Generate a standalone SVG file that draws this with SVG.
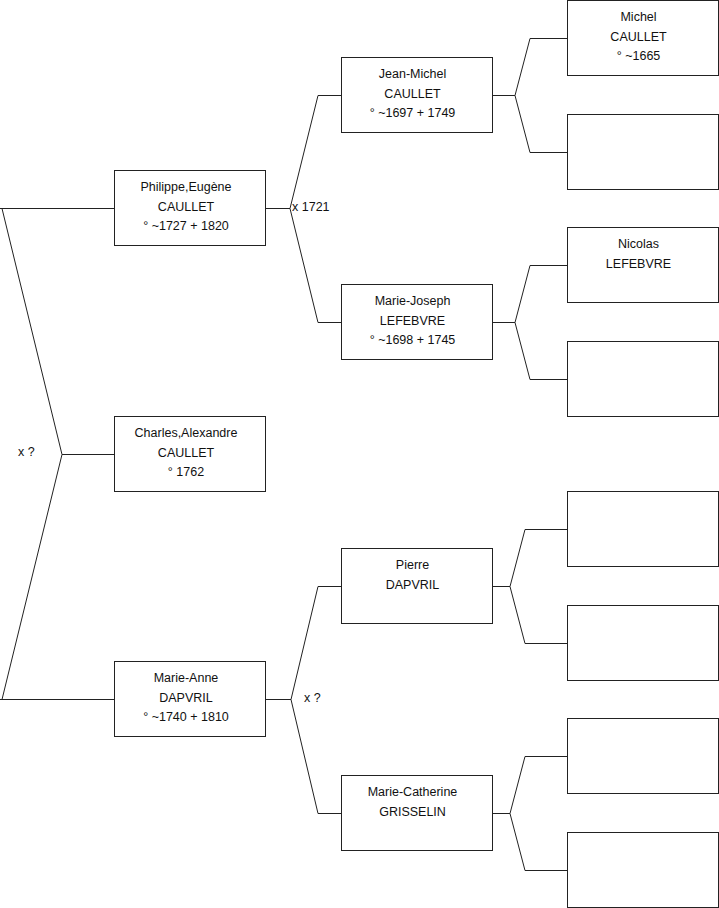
<svg xmlns="http://www.w3.org/2000/svg" width="719" height="908" viewBox="0 0 719 908">
<style>
.box{fill:#fff;stroke:#222;stroke-width:1}
.ln{fill:none;stroke:#222;stroke-width:1}
text{font-family:"Liberation Sans",Arial,sans-serif;font-size:12.5px;fill:#111}
.c{text-anchor:middle}
</style>
<rect width="719" height="908" fill="#fff"/>
<g id="connectors" class="ln">
<path d="M0,208.5H114M2,208.5L62,454.5L2,699.5M62,454.5H114M0,699.5H114"/>
<path d="M265,208.5H290M318,95.5L290,208.5L318,322.5M318,95.5H341M318,322.5H341"/>
<path d="M265,699.5H291M318,586.5L291,699.5L318,813.5M318,586.5H341M318,813.5H341"/>
<path d="M492,95.5H515M530,38.5L515,95.5L530,152.5M530,38.5H567M530,152.5H567"/>
<path d="M492,322.5H515M530,265.5L515,322.5L530,379.5M530,265.5H567M530,379.5H567"/>
<path d="M492,586.5H510M525,529.5L510,586.5L525,643.5M525,529.5H567M525,643.5H567"/>
<path d="M492,813.5H510M525,756.5L510,813.5L525,870.5M525,756.5H567M525,870.5H567"/>
</g>
<g id="labels">
<text x="18" y="456">x ?</text>
<text x="292" y="211">x 1721</text>
<text x="304" y="702">x ?</text>
</g>
<g id="philippe"><rect class="box" x="114.5" y="170.5" width="151" height="75"/>
<text class="c" x="186" y="191">Philippe,Eugène</text><text class="c" x="186" y="210.5">CAULLET</text><text class="c" x="186" y="230">° ~1727 + 1820</text></g>
<g id="charles"><rect class="box" x="114.5" y="416.5" width="151" height="75"/>
<text class="c" x="186" y="437">Charles,Alexandre</text><text class="c" x="186" y="456.5">CAULLET</text><text class="c" x="186" y="476">° 1762</text></g>
<g id="marieanne"><rect class="box" x="114.5" y="661.5" width="151" height="75"/>
<text class="c" x="186" y="682">Marie-Anne</text><text class="c" x="186" y="701.5">DAPVRIL</text><text class="c" x="186" y="721">° ~1740 + 1810</text></g>
<g id="jeanmichel"><rect class="box" x="341.5" y="57.5" width="151" height="75"/>
<text class="c" x="412.5" y="78">Jean-Michel</text><text class="c" x="412.5" y="97.5">CAULLET</text><text class="c" x="412.5" y="117">° ~1697 + 1749</text></g>
<g id="mariejoseph"><rect class="box" x="341.5" y="284.5" width="151" height="75"/>
<text class="c" x="412.5" y="305">Marie-Joseph</text><text class="c" x="412.5" y="324.5">LEFEBVRE</text><text class="c" x="412.5" y="344">° ~1698 + 1745</text></g>
<g id="pierre"><rect class="box" x="341.5" y="548.5" width="151" height="75"/>
<text class="c" x="412.5" y="569">Pierre</text><text class="c" x="412.5" y="588.5">DAPVRIL</text></g>
<g id="mariecatherine"><rect class="box" x="341.5" y="775.5" width="151" height="75"/>
<text class="c" x="412.5" y="796">Marie-Catherine</text><text class="c" x="412.5" y="815.5">GRISSELIN</text></g>
<g id="michel"><rect class="box" x="567.5" y="0.5" width="151" height="75"/>
<text class="c" x="638.5" y="21">Michel</text><text class="c" x="638.5" y="40.5">CAULLET</text><text class="c" x="638.5" y="60">° ~1665</text></g>
<g id="unknown1"><rect class="box" x="567.5" y="114.5" width="151" height="75"/></g>
<g id="nicolas"><rect class="box" x="567.5" y="227.5" width="151" height="75"/>
<text class="c" x="638.5" y="248">Nicolas</text><text class="c" x="638.5" y="267.5">LEFEBVRE</text></g>
<g id="unknown2"><rect class="box" x="567.5" y="341.5" width="151" height="75"/></g>
<g id="unknown3"><rect class="box" x="567.5" y="491.5" width="151" height="75"/></g>
<g id="unknown4"><rect class="box" x="567.5" y="605.5" width="151" height="75"/></g>
<g id="unknown5"><rect class="box" x="567.5" y="718.5" width="151" height="75"/></g>
<g id="unknown6"><rect class="box" x="567.5" y="832.5" width="151" height="75"/></g>
</svg>
